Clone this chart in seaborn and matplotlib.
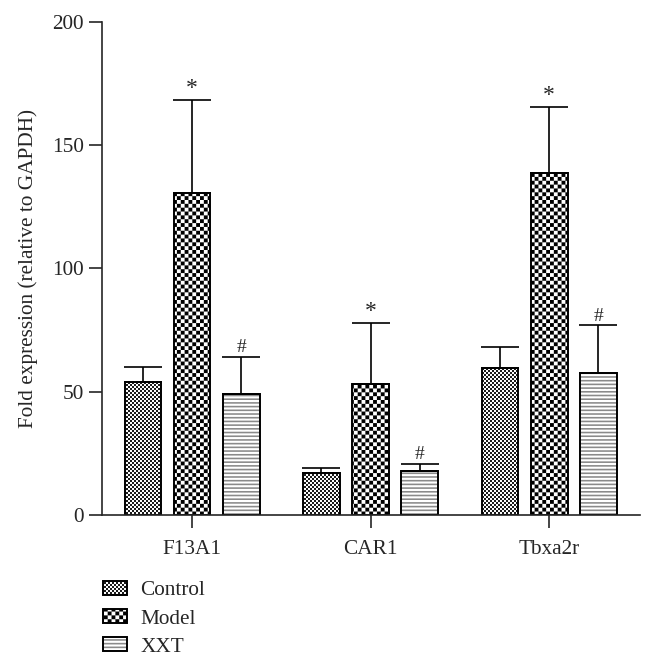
import numpy as np
import pandas as pd
import matplotlib
matplotlib.use("Agg")
import matplotlib.pyplot as plt
import matplotlib.hatch as mhatch
from matplotlib.path import Path
from matplotlib.colors import to_rgba
import seaborn as sns

# ---------------- data ----------------
genes = ["F13A1", "CAR1", "Tbxa2r"]
groups = ["Control", "Model", "XXT"]
control_mean = [54.1, 16.9, 59.5]
control_err = [5.8, 2.0, 8.7]
model_mean = [130.5, 53.1, 138.6]
model_err = [37.9, 24.9, 27.1]
xxt_mean = [49.0, 17.8, 57.7]
xxt_err = [15.2, 3.0, 19.3]
control_marks = ["", "", ""]
model_marks = ["*", "*", "*"]
xxt_marks = ["#", "#", "#"]
y_ticks = [0, 50, 100, 150, 200]
y_label = "Fold expression (relative to GAPDH)"

# ---------------- custom filled hatches ----------------
class _FilledRects(mhatch.HatchPatternBase):
    char = None

    def __init__(self, hatch, density):
        self.rects = self.make_rects() if (hatch and self.char in hatch) else []
        self.num_vertices = 5 * len(self.rects)

    def make_rects(self):
        return []

    def set_vertices_and_codes(self, vertices, codes):
        for i, (x0, y0, x1, y1) in enumerate(self.rects):
            vertices[5 * i:5 * i + 5] = [(x0, y0), (x1, y0), (x1, y1), (x0, y1), (x0, y0)]
            codes[5 * i:5 * i + 5] = [Path.MOVETO, Path.LINETO, Path.LINETO,
                                      Path.LINETO, Path.CLOSEPOLY]


class BigChecker(_FilledRects):
    char = "O"
    n = 26

    def make_rects(self):
        s = 1.0 / self.n
        return [(i * s, j * s, (i + 1) * s, (j + 1) * s)
                for i in range(self.n) for j in range(self.n) if (i + j) % 2 == 0]


class FineChecker(BigChecker):
    char = "o"
    n = 50


class HLines(_FilledRects):
    char = "-"
    n = 27
    t = 0.016

    def make_rects(self):
        return [(0.0, k / self.n, 1.0, k / self.n + self.t) for k in range(self.n)]


mhatch._hatch_types = [HLines, BigChecker, FineChecker]

# ---------------- style ----------------
sns.set_style("ticks")
plt.rcParams["font.family"] = ["Liberation Serif", "DejaVu Serif"]
plt.rcParams["hatch.linewidth"] = 0.01
FS = 15.3

df = pd.DataFrame({
    "gene": genes * 3,
    "group": [g for g in groups for _ in genes],
    "value": control_mean + model_mean + xxt_mean,
})
errs = [control_err, model_err, xxt_err]
marks = [control_marks, model_marks, xxt_marks]
mark_sizes = [15, 17, 14]
hatches = ["o", "O", "-"]
hatch_colors = ["#1a1a1a", "#000000", "#8a8a8a"]

fig = plt.figure(figsize=(6.54, 6.66), dpi=100)
ax = fig.add_axes([0.156, 0.2267, 0.823, 0.7403])

sns.barplot(data=df, x="gene", y="value", hue="group", order=genes,
            hue_order=groups, palette=["white"] * 3, saturation=1,
            width=0.825, gap=0.25, errorbar=None, edgecolor="black",
            linewidth=1.4, legend=False, ax=ax)

handles = []
for cont, h, hc, e, mk, ms in zip(ax.containers, hatches, hatch_colors, errs,
                                  marks, mark_sizes):
    xs, ys = [], []
    for p in cont:
        p.set_hatch(h)
        if hasattr(p, "set_hatchcolor"):
            p.set_hatchcolor(hc)
        else:
            p._hatch_color = to_rgba(hc)
        xs.append(p.get_x() + p.get_width() / 2)
        ys.append(p.get_height())
    ax.errorbar(xs, ys, yerr=[np.zeros(len(e)), e], fmt="none", ecolor="black",
                elinewidth=1.2, capsize=14, capthick=1.2, zorder=1)
    for x, y, err, m in zip(xs, ys, e, mk):
        if m:
            ax.annotate(m, (x, y + err), xytext=(0, 0.3), textcoords="offset points",
                        ha="center", va="bottom", fontsize=ms)
    handles.append(cont.patches[0])

ax.set_ylim(0, 200)
ax.set_xlim(-0.504, 2.51)
ax.set_yticks(y_ticks)
ax.set_xlabel("")
ax.set_ylabel(y_label, fontsize=FS, labelpad=10)
for s in ["top", "right"]:
    ax.spines[s].set_visible(False)
for s in ["left", "bottom"]:
    ax.spines[s].set_linewidth(1.2)
ax.tick_params(axis="y", length=9.5, width=1.2, pad=3.5, labelsize=FS)
ax.tick_params(axis="x", length=9, width=1.2, pad=9, labelsize=FS)

fig.legend(handles, groups, loc="upper left", bbox_to_anchor=(0.1575, 0.128),
           frameon=False, fontsize=FS, handlelength=1.15, handleheight=0.63,
           handletextpad=0.62, labelspacing=0.42, borderpad=0, borderaxespad=0)

fig.savefig("out.png", dpi=100)
